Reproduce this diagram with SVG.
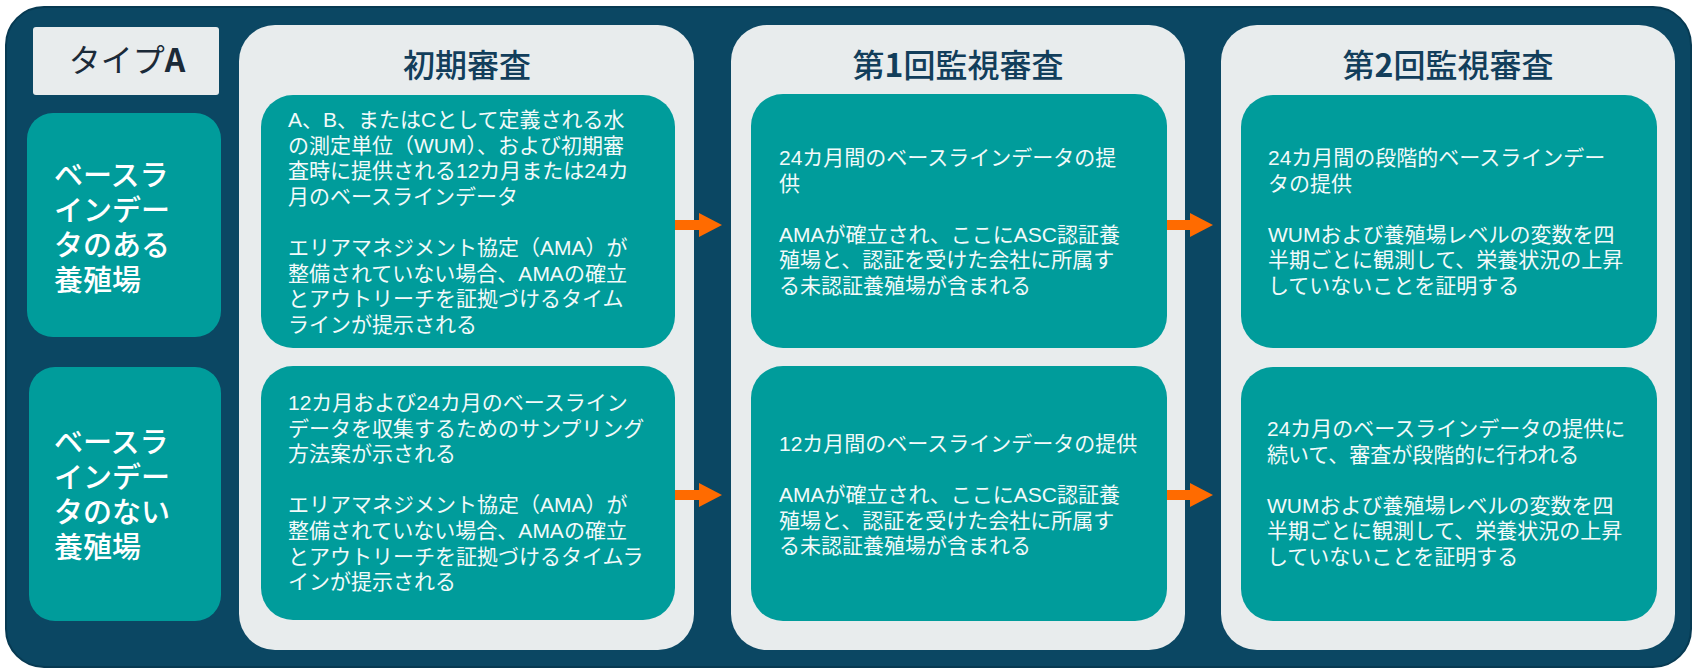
<svg xmlns="http://www.w3.org/2000/svg" width="1692" height="668" viewBox="0 0 1692 668">
  <style>
    .bg { fill: #0B4763; stroke: #073a52; stroke-width: 2; }
    .col { fill: #E8ECED; }
    .teal { fill: #009C9B; }
    .type { fill: #E8ECED; }
    .hdr { font-family: "Noto Sans CJK JP", sans-serif; font-size: 32px; font-weight: 500; fill: #123E5B; text-anchor: middle; }
    .lbl { font-family: "Liberation Sans", "Noto Sans CJK JP", sans-serif; font-size: 29px; font-weight: 500; fill: #FFFFFF; }
    .body { font-family: "Liberation Sans", "Noto Sans CJK JP", sans-serif; font-size: 21px; font-weight: 400; fill: #F2FAFA; }
    .bold { font-weight: 700; }
    .arrow { stroke: #FF6B00; stroke-width: 10; fill: none; }
  </style>
  <defs>
    <marker id="head" markerUnits="userSpaceOnUse" viewBox="0 0 23 24" markerWidth="23" markerHeight="24" refX="0" refY="12" orient="auto">
      <path d="M0,0 L23,12 L0,24 Z" fill="#FF6B00"/>
    </marker>
  </defs>

  <rect class="bg" x="6" y="7" width="1685" height="660" rx="38"/>

  <g id="type-a">
    <rect class="type" x="33" y="27" width="186" height="68" rx="3"/>
    <text x="127" y="72" font-family="Noto Sans CJK JP, sans-serif" font-size="32" fill="#1B2A38" text-anchor="middle">タイプ<tspan class="bold">A</tspan></text>
  </g>

  <g id="row-with-baseline">
    <rect class="teal" x="27" y="113" width="194" height="224" rx="26"/>
    <text class="lbl">
      <tspan x="54" y="186">ベースラ</tspan>
      <tspan x="54" y="221">インデー</tspan>
      <tspan x="54" y="256">タのある</tspan>
      <tspan x="54" y="291">養殖場</tspan>
    </text>
  </g>

  <g id="row-without-baseline">
    <rect class="teal" x="29" y="367" width="192" height="254" rx="26"/>
    <text class="lbl">
      <tspan x="54" y="453">ベースラ</tspan>
      <tspan x="54" y="488">インデー</tspan>
      <tspan x="54" y="523">タのない</tspan>
      <tspan x="54" y="558">養殖場</tspan>
    </text>
  </g>

  <g id="col-initial">
    <rect class="col" x="239" y="25" width="455" height="625" rx="36"/>
    <text class="hdr" x="467" y="77">初期審査</text>
  </g>

  <g id="col-first">
    <rect class="col" x="731" y="25" width="454" height="625" rx="36"/>
    <text class="hdr" x="958" y="77">第<tspan class="bold">1</tspan>回監視審査</text>
  </g>

  <g id="col-second">
    <rect class="col" x="1221" y="25" width="454" height="625" rx="36"/>
    <text class="hdr" x="1448" y="77">第<tspan class="bold">2</tspan>回監視審査</text>
  </g>

  <g id="initial-with">
    <rect class="teal" x="261" y="95" width="414" height="253" rx="32"/>
    <text class="body">
      <tspan x="288" y="127">A、B、またはCとして定義される水</tspan>
      <tspan x="288" y="152.6">の測定単位（WUM）、および初期審</tspan>
      <tspan x="288" y="178.2">査時に提供される12カ月または24カ</tspan>
      <tspan x="288" y="203.8">月のベースラインデータ</tspan>
      <tspan x="288" y="255">エリアマネジメント協定（AMA）が</tspan>
      <tspan x="288" y="280.6">整備されていない場合、AMAの確立</tspan>
      <tspan x="288" y="306.2">とアウトリーチを証拠づけるタイム</tspan>
      <tspan x="288" y="331.8">ラインが提示される</tspan>
    </text>
  </g>

  <g id="initial-without">
    <rect class="teal" x="261" y="366" width="414" height="254" rx="32"/>
    <text class="body">
      <tspan x="288" y="410">12カ月および24カ月のベースライン</tspan>
      <tspan x="288" y="435.6">データを収集するためのサンプリング</tspan>
      <tspan x="288" y="461.2">方法案が示される</tspan>
      <tspan x="288" y="512.4">エリアマネジメント協定（AMA）が</tspan>
      <tspan x="288" y="538">整備されていない場合、AMAの確立</tspan>
      <tspan x="288" y="563.6">とアウトリーチを証拠づけるタイムラ</tspan>
      <tspan x="288" y="589.2">インが提示される</tspan>
    </text>
  </g>

  <g id="first-with">
    <rect class="teal" x="751" y="94" width="416" height="254" rx="32"/>
    <text class="body">
      <tspan x="779" y="165">24カ月間のベースラインデータの提</tspan>
      <tspan x="779" y="190.6">供</tspan>
      <tspan x="779" y="241.8">AMAが確立され、ここにASC認証養</tspan>
      <tspan x="779" y="267.4">殖場と、認証を受けた会社に所属す</tspan>
      <tspan x="779" y="293">る未認証養殖場が含まれる</tspan>
    </text>
  </g>

  <g id="first-without">
    <rect class="teal" x="751" y="366" width="416" height="255" rx="32"/>
    <text class="body">
      <tspan x="779" y="451">12カ月間のベースラインデータの提供</tspan>
      <tspan x="779" y="502.2">AMAが確立され、ここにASC認証養</tspan>
      <tspan x="779" y="527.8">殖場と、認証を受けた会社に所属す</tspan>
      <tspan x="779" y="553.4">る未認証養殖場が含まれる</tspan>
    </text>
  </g>

  <g id="second-with">
    <rect class="teal" x="1241" y="95" width="416" height="253" rx="32"/>
    <text class="body">
      <tspan x="1268" y="165">24カ月間の段階的ベースラインデー</tspan>
      <tspan x="1268" y="190.6">タの提供</tspan>
      <tspan x="1268" y="241.8">WUMおよび養殖場レベルの変数を四</tspan>
      <tspan x="1268" y="267.4">半期ごとに観測して、栄養状況の上昇</tspan>
      <tspan x="1268" y="293">していないことを証明する</tspan>
    </text>
  </g>

  <g id="second-without">
    <rect class="teal" x="1241" y="367" width="416" height="254" rx="32"/>
    <text class="body">
      <tspan x="1267" y="436">24カ月のベースラインデータの提供に</tspan>
      <tspan x="1267" y="461.6">続いて、審査が段階的に行われる</tspan>
      <tspan x="1267" y="512.8">WUMおよび養殖場レベルの変数を四</tspan>
      <tspan x="1267" y="538.4">半期ごとに観測して、栄養状況の上昇</tspan>
      <tspan x="1267" y="564">していないことを証明する</tspan>
    </text>
  </g>

  <g id="connectors">
    <line class="arrow" x1="675" y1="225" x2="699" y2="225" marker-end="url(#head)"/>
    <line class="arrow" x1="1167" y1="225" x2="1190" y2="225" marker-end="url(#head)"/>
    <line class="arrow" x1="675" y1="495" x2="699" y2="495" marker-end="url(#head)"/>
    <line class="arrow" x1="1167" y1="495" x2="1190" y2="495" marker-end="url(#head)"/>
  </g>
</svg>
